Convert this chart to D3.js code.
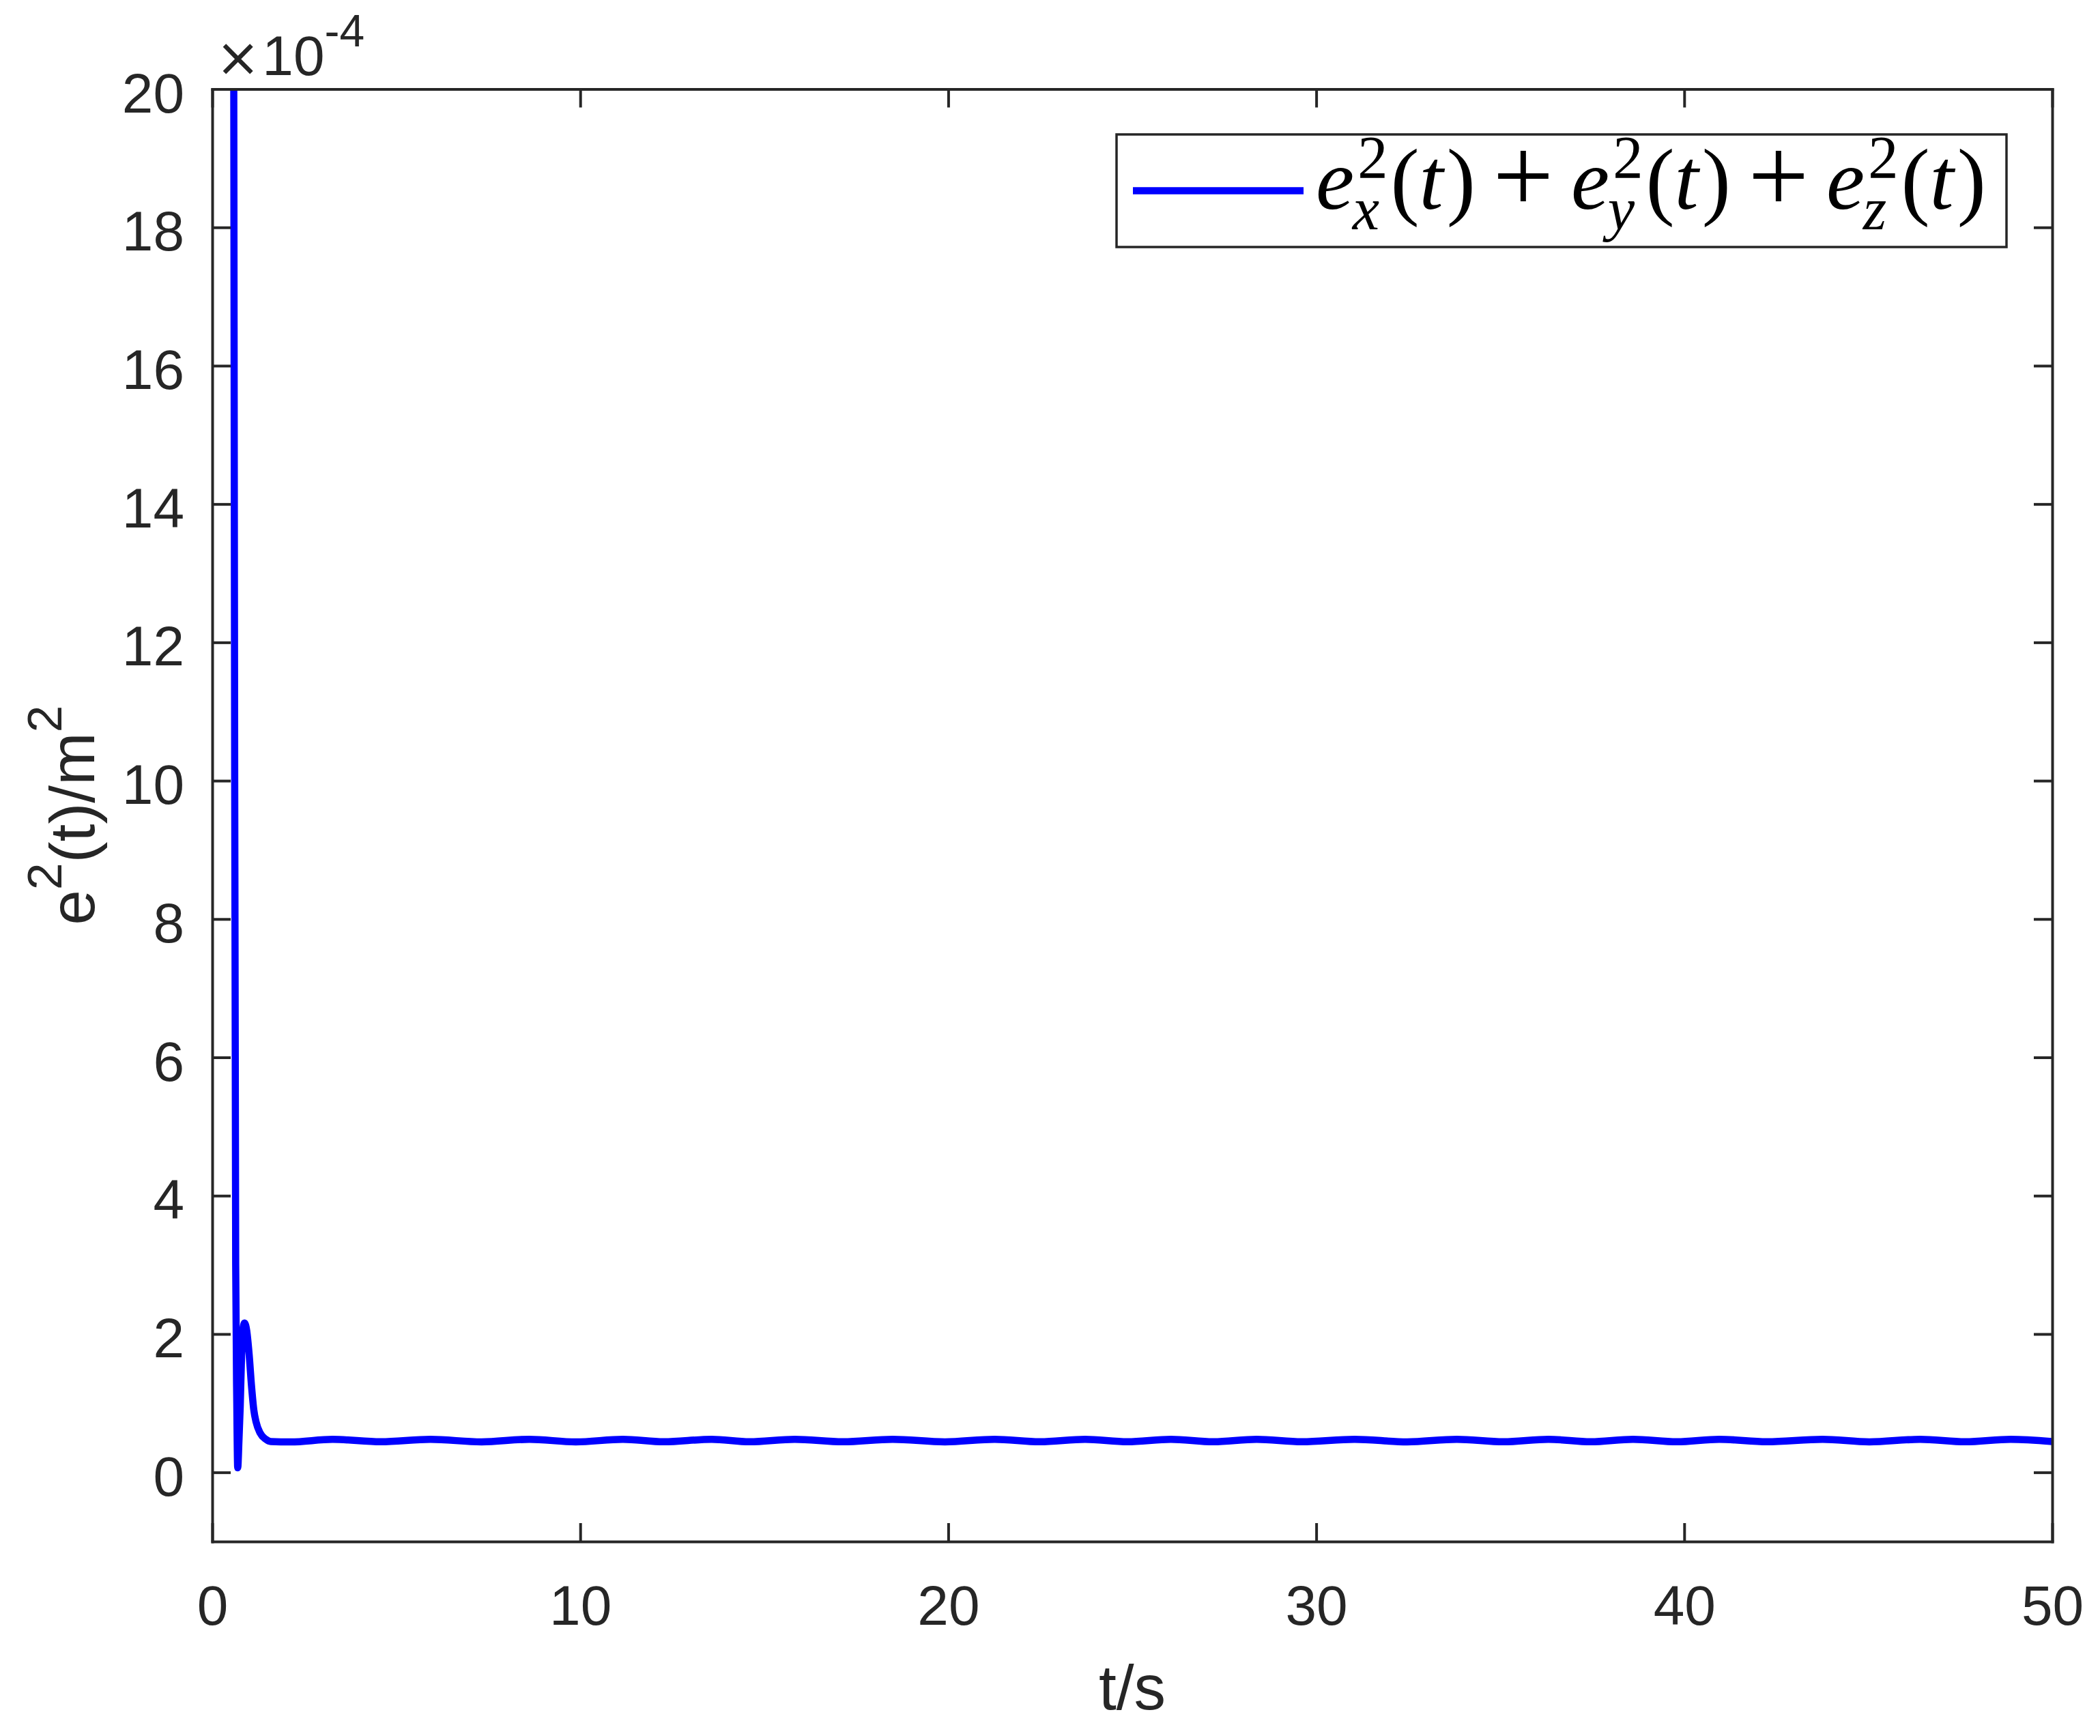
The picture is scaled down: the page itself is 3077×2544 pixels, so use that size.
<!DOCTYPE html>
<html>
<head>
<meta charset="utf-8">
<script src="https://cdn.jsdelivr.net/npm/d3@7"></script>
<style>
	body { margin: 0; background: #fff; }
	svg text { fill: #262626; font-family: 'Liberation Sans', Arial, Helvetica, sans-serif; }
	.axis path, .axis line { stroke: #262626; stroke-width: 4px; }
	.axis path { stroke-linecap: square; }
	.legend_math text { fill: #000; font-family: 'Liberation Serif', 'DejaVu Serif', serif; }
</style>
</head>
<body>
<div id="chart"></div>
<script>
// axis ticks
var xTicks = [0, 10, 20, 30, 40, 50]
var yTicks = [0, 2, 4, 6, 8, 10, 12, 14, 16, 18, 20]

// squared tracking error, in units of 1e-4 m^2
var tData = [0.575, 0.585, 0.61, 0.637, 0.667, 0.692, 0.725, 0.76, 0.80, 0.84, 0.877, 0.936, 1.0, 1.07, 1.13, 1.19, 1.30, 1.45, 1.59,
	2.13, 3.27, 4.58, 5.93, 7.32, 8.62, 9.88, 11.16, 12.27, 13.57, 14.6, 15.83, 17.14, 18.49, 19.91, 21.26, 22.49, 23.72,
	24.87, 26.05, 27.2, 28.38, 29.61, 31.04, 32.47, 33.82, 35.09, 36.31, 37.46, 38.61, 39.8, 40.95, 42.25, 43.76,
	45.03, 46.41, 47.64, 48.87, 50]
var eData = [24, 20, 10, 3.0, 1.0, 0.065, 0.45, 0.95, 1.75, 2.08, 2.16, 2.05, 1.72, 1.23, 0.90, 0.73, 0.57, 0.48, 0.445,
	0.440, 0.477, 0.442, 0.477, 0.441, 0.478, 0.440, 0.478, 0.442, 0.478, 0.442, 0.478, 0.442, 0.478, 0.441, 0.478, 0.442, 0.478,
	0.443, 0.478, 0.442, 0.478, 0.443, 0.478, 0.441, 0.478, 0.442, 0.478, 0.442, 0.478, 0.442, 0.478, 0.443, 0.478,
	0.441, 0.478, 0.442, 0.478, 0.445]

var xDomain = [0, 50]
var yDomain = [-1, 20]

var settings = {
	width: 3077,
	height: 2544,
	left: 311,
	right: 3007,
	top: 130.5,
	bottom: 2259
}

var svg = d3.select('#chart').append('svg')
	.attr('width', settings.width)
	.attr('height', settings.height)

svg.append('rect').attr('width', settings.width).attr('height', settings.height).attr('fill', '#fff')

var x = d3.scaleLinear().domain(xDomain).range([settings.left, settings.right])
var y = d3.scaleLinear().domain(yDomain).range([settings.bottom, settings.top])

svg.append('clipPath').attr('id', 'plotclip')
	.append('rect')
	.attr('x', settings.left).attr('y', settings.top)
	.attr('width', settings.right - settings.left)
	.attr('height', settings.bottom - settings.top)

/*the curve*/
var points = tData.map(function(t, i) { return [t, eData[i]] })
var line = d3.line()
	.x(function(d) { return x(d[0]) })
	.y(function(d) { return y(d[1]) })
	.curve(d3.curveMonotoneX)

svg.append('path')
	.datum(points)
	.attr('clip-path', 'url(#plotclip)')
	.attr('d', line)
	.attr('fill', 'none')
	.attr('stroke', '#0000ff')
	.attr('stroke-width', 10.5)
	.attr('stroke-linejoin', 'round')

/*axes, ticks pointing inward on all four sides*/
var tickLen = 27
var tickFont = 82

svg.append('g').attr('class', 'axis')
	.attr('transform', 'translate(0,' + settings.bottom + ')')
	.call(d3.axisBottom(x).tickValues(xTicks).tickSizeInner(-tickLen).tickSizeOuter(0).tickPadding(64))
	.call(function(g) { g.selectAll('text').style('font-size', tickFont + 'px').attr('fill', '#262626') })

svg.append('g').attr('class', 'axis')
	.attr('transform', 'translate(0,' + settings.top + ')')
	.call(d3.axisTop(x).tickValues(xTicks).tickSizeInner(-tickLen).tickSizeOuter(0).tickFormat(''))

svg.append('g').attr('class', 'axis')
	.attr('transform', 'translate(' + settings.left + ',0)')
	.call(d3.axisLeft(y).tickValues(yTicks).tickSizeInner(-tickLen).tickSizeOuter(0).tickPadding(41))
	.call(function(g) { g.selectAll('text').style('font-size', tickFont + 'px').attr('dy', '0.41em').attr('fill', '#262626') })

svg.append('g').attr('class', 'axis')
	.attr('transform', 'translate(' + settings.right + ',0)')
	.call(d3.axisRight(y).tickValues(yTicks).tickSizeInner(-tickLen).tickSizeOuter(0).tickFormat(''))

d3.selectAll('.axis').attr('font-family', null).attr('font-size', null)

/*exponent label*/
var expo = svg.append('text').attr('x', 316).attr('y', 110).style('font-size', '82px')
expo.append('tspan').style('font-size', '78px').style('font-family', "'DejaVu Sans', sans-serif").attr('dy', 1).text('\u00d7')
expo.append('tspan').attr('dx', 3).attr('dy', -1).text('10')
expo.append('tspan').attr('dy', -42).style('font-size', '66px').text('-4')

/*axis labels*/
var labelFont = 93
svg.append('text')
	.attr('x', (settings.left + settings.right) / 2)
	.attr('y', 2505)
	.attr('text-anchor', 'middle')
	.style('font-size', labelFont + 'px')
	.text('t/s')

var ylab = svg.append('text')
	.attr('transform', 'translate(138,' + ((settings.top + settings.bottom) / 2) + ') rotate(-90)')
	.attr('text-anchor', 'middle')
	.style('font-size', labelFont + 'px')
ylab.append('tspan').text('e')
ylab.append('tspan').attr('dy', -48).style('font-size', '71px').text('2')
ylab.append('tspan').attr('dy', 48).text('(t)/m')
ylab.append('tspan').attr('dy', -48).style('font-size', '71px').text('2')

/*legend*/
var legend = svg.append('g')
legend.append('rect')
	.attr('x', 1636).attr('y', 197)
	.attr('width', 1304).attr('height', 165)
	.attr('fill', '#fff')
	.attr('stroke', '#262626')
	.attr('stroke-width', 3.5)

legend.append('line')
	.attr('x1', 1660).attr('x2', 1910)
	.attr('y1', 279.5).attr('y2', 279.5)
	.attr('stroke', '#0000ff')
	.attr('stroke-width', 10.5)

var mathG = legend.append('g').attr('class', 'legend_math')

// width of a piece of text, measured with a throwaway element
var measure = function(txt, fs, italic) {
	var t = mathG.append('text').style('font-size', fs + 'px').style('font-style', italic ? 'italic' : 'normal').text(txt)
	var w = t.node().getComputedTextLength()
	t.remove()
	return w
}

// lay the formula out as one text element, sub and superscripts stacked
var mathText = function(x0, y0, fs, parts) {
	var runs = []
	var cx = x0
	parts.forEach(function(p) {
		if (p.sup !== undefined) {
			var ws = measure(p.sup, 0.7 * fs, false)
			var wb = measure(p.sub, 0.7 * fs, true)
			runs.push({txt: p.sup, x: cx + 0.04 * fs, y: y0 - 0.36 * fs, fs: 0.7 * fs, it: false})
			runs.push({txt: p.sub, x: cx - 0.02 * fs, y: y0 + 0.24 * fs, fs: 0.7 * fs, it: true})
			cx += Math.max(ws + 0.04 * fs, wb) + 0.03 * fs
		} else {
			var size = fs * (p.scale || 1)
			var pre = (p.pre || 0) * fs
			runs.push({txt: p.txt, x: cx + pre, y: y0 + (p.dy || 0) * fs, fs: size, it: !!p.it})
			cx += pre + measure(p.txt, size, p.it) + (p.post || 0) * fs
		}
	})
	return {runs: runs, width: cx - x0}
}

var term = function(sub) {
	return [
		{txt: 'e', it: true},
		{sup: '2', sub: sub},
		{txt: '('},
		{txt: 't', it: true, post: 0.04},
		{txt: ')'}
	]
}
var plus = {txt: '+', pre: 0.2, post: 0.2, scale: 1.25, dy: 0.04}
var legendParts = term('x').concat([plus], term('y'), [plus], term('z'))

// fit to the width the legend text takes in the picture
var target = 2910 - 1928
var lay = mathText(1928, 306, 118, legendParts)
lay = mathText(1928, 306, 118 * target / lay.width, legendParts)

var mt = mathG.append('text')
mt.selectAll('tspan')
	.data(lay.runs)
	.enter()
	.append('tspan')
	.attr('x', function(d) { return d.x })
	.attr('y', function(d) { return d.y })
	.style('font-size', function(d) { return d.fs + 'px' })
	.style('font-style', function(d) { return d.it ? 'italic' : 'normal' })
	.text(function(d) { return d.txt })
</script>
</body>
</html>
